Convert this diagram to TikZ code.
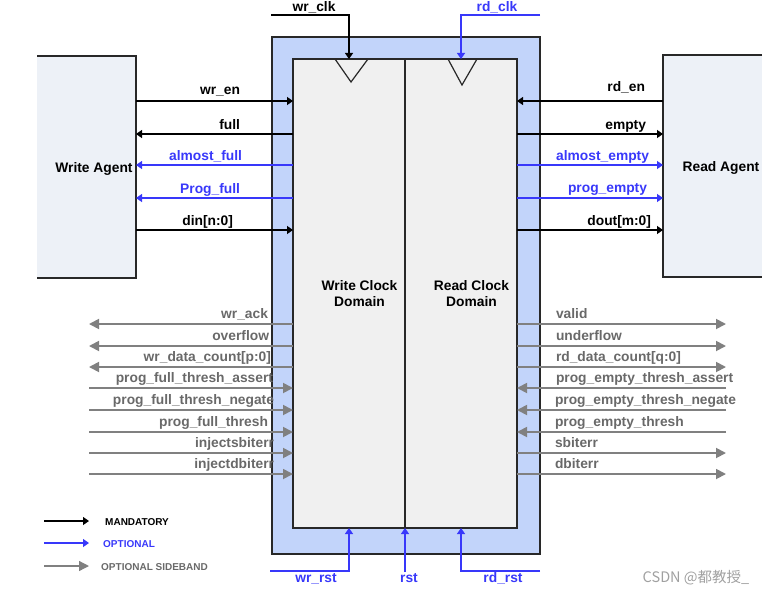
\documentclass[tikz,border=0pt]{standalone}
\usepackage{fontspec}
\setmainfont{Liberation Sans}
\newfontfamily\cjkfont{Noto Sans CJK SC}
\usetikzlibrary{arrows.meta}
\definecolor{optblue}{RGB}{56,56,250}
\definecolor{sidegray}{RGB}{128,128,128}
\definecolor{sidetext}{RGB}{105,105,105}
\definecolor{outerfill}{RGB}{194,212,250}
\definecolor{innerfill}{RGB}{240,240,240}
\definecolor{agentfill}{RGB}{237,241,247}
\definecolor{edgecol}{RGB}{40,40,40}
\definecolor{wmgray}{RGB}{160,160,160}
\begin{document}
\begin{tikzpicture}[x=1pt,y=-1pt,
  lbl/.style={font=\fontsize{13.8}{16}\selectfont\bfseries, inner sep=0pt, outer sep=0pt},
  bl/.style={lbl, text=black},
  ol/.style={lbl, text=optblue},
  sl/.style={lbl, text=sidetext},
  legtxt/.style={font=\fontsize{10}{12}\selectfont\bfseries, inner sep=0pt, anchor=west},
  mand/.style={draw=black, line width=1.3pt, -{Triangle[length=6pt,width=8pt]}},
  opt/.style={draw=optblue, line width=1.3pt, -{Triangle[length=6pt,width=8pt]}},
  side/.style={draw=sidegray, line width=1.8pt, -{Triangle[length=10pt,width=10pt]}},
  outerbox/.style={draw=edgecol, line width=1.8pt, fill=outerfill, inner sep=0pt, outer sep=0pt},
  dombox/.style={draw=edgecol, line width=1.4pt, fill=innerfill, inner sep=0pt, outer sep=0pt},
  agentbox/.style={fill=agentfill, inner sep=0pt, outer sep=0pt},
  agentedge/.style={draw=edgecol, line width=1.4pt},
  clocktri/.style={draw=edgecol, line width=1.2pt}
]
\useasboundingbox (0,0) rectangle (767,594);

% agents
\node[agentbox, minimum width=99pt, minimum height=222pt] (wagent) at (86.5,167) {};
\node[agentbox, minimum width=99pt, minimum height=222pt] (ragent) at (712.5,166) {};
\draw[agentedge] (wagent.north west) -- (wagent.north east) -- (wagent.south east) -- (wagent.south west);
\draw[agentedge] (ragent.north east) -- (ragent.north west) -- (ragent.south west) -- (ragent.south east);
\node[bl, anchor=base] (wagentlbl) at (94,172) {Write Agent};
\node[bl, anchor=base] (ragentlbl) at (721,171) {Read Agent};

% FIFO core
\node[outerbox, minimum width=268pt, minimum height=517pt] (outer) at (406,295.5) {};
\node[dombox, minimum width=112pt, minimum height=469pt] (wdom) at (349,293.5) {};
\node[dombox, minimum width=112pt, minimum height=469pt] (rdom) at (461,293.5) {};
\draw[clocktri] (335,59) -- (351,82) -- (368,59);
\draw[clocktri] (448,59) -- (462,85) -- (477,59);
\node[bl, anchor=base] (wd1) at (359.5,290) {Write Clock};
\node[bl, anchor=base] (wd2) at (359.5,306) {Domain};
\node[bl, anchor=base] (rd1) at (471.5,290) {Read Clock};
\node[bl, anchor=base] (rd2) at (471.5,306) {Domain};

% row coordinates
\coordinate (r1) at (0,101);
\coordinate (r2) at (0,134);
\coordinate (r3) at (0,165);
\coordinate (r4) at (0,198);
\coordinate (r5) at (0,230);
\coordinate (s1) at (0,324);
\coordinate (s2) at (0,346);
\coordinate (s3) at (0,367);
\coordinate (s4) at (0,388);
\coordinate (s5) at (0,410);
\coordinate (s6) at (0,432);
\coordinate (s7) at (0,453);
\coordinate (s8) at (0,474);
\coordinate (lend) at (89,0);
\coordinate (rend) at (726,0);

% clocks
\coordinate (wclk) at (271,15);
\coordinate (rclk) at (540,15);
\draw[mand] (wclk) -| (wdom.north);
\draw[opt] (rclk) -| (rdom.north);
\node[bl, anchor=base] (wclklbl) at (314,12) {wr\_clk};
\node[ol, anchor=base] (rclklbl) at (497,12) {rd\_clk};

% resets
\coordinate (wrst) at (270,571);
\coordinate (rrst) at (540,571);
\coordinate (rstsrc) at (405,572);
\draw[opt] (wrst) -| (wdom.south);
\draw[opt] (rrst) -| (rdom.south);
\draw[opt] (rstsrc) -- (wdom.south east);
\node[ol, anchor=base] (wrstlbl) at (316,582) {wr\_rst};
\node[ol, anchor=base] (rstlbl) at (409,582) {rst};
\node[ol, anchor=base] (rrstlbl) at (503,582) {rd\_rst};

% write side main signals
\draw[mand] (wagent.east|-r1) -- (wdom.west|-r1);
\draw[mand] (wdom.west|-r2) -- (wagent.east|-r2);
\draw[opt] (wdom.west|-r3) -- (wagent.east|-r3);
\draw[opt] (wdom.west|-r4) -- (wagent.east|-r4);
\draw[mand] (wagent.east|-r5) -- (wdom.west|-r5);
\node[bl, anchor=base east] (lwren) at (240,94) {wr\_en};
\node[bl, anchor=base east] (lfull) at (240,129) {full};
\node[ol, anchor=base east] (lafull) at (242,160) {almost\_full};
\node[ol, anchor=base east] (lpfull) at (240,193) {Prog\_full};
\node[bl, anchor=base east] (ldin) at (233,225) {din[n:0]};

% read side main signals
\draw[mand] (ragent.west|-r1) -- (rdom.east|-r1);
\draw[mand] (rdom.east|-r2) -- (ragent.west|-r2);
\draw[opt] (rdom.east|-r3) -- (ragent.west|-r3);
\draw[opt] (rdom.east|-r4) -- (ragent.west|-r4);
\draw[mand] (rdom.east|-r5) -- (ragent.west|-r5);
\node[bl, anchor=base east] (lrden) at (645,91) {rd\_en};
\node[bl, anchor=base east] (lempty) at (646,129) {empty};
\node[ol, anchor=base east] (laempty) at (649,160) {almost\_empty};
\node[ol, anchor=base east] (lpempty) at (647,192) {prog\_empty};
\node[bl, anchor=base east] (ldout) at (651,225) {dout[m:0]};

% write side sideband
\draw[side] (wdom.west|-s1) -- (lend|-s1);
\draw[side] (wdom.west|-s2) -- (lend|-s2);
\draw[side] (wdom.west|-s3) -- (lend|-s3);
\draw[side] (lend|-s4) -- (wdom.west|-s4);
\draw[side] (lend|-s5) -- (wdom.west|-s5);
\draw[side] (lend|-s6) -- (wdom.west|-s6);
\draw[side] (lend|-s7) -- (wdom.west|-s7);
\draw[side] (lend|-s8) -- (wdom.west|-s8);
\node[sl, anchor=base east] (lwack) at (268,318) {wr\_ack};
\node[sl, anchor=base east] (lovf) at (269,340) {overflow};
\node[sl, anchor=base east] (lwdc) at (271,361) {wr\_data\_count[p:0]};
\node[sl, anchor=base east] (lpfta) at (273,382) {prog\_full\_thresh\_assert};
\node[sl, anchor=base east] (lpftn) at (274,404) {prog\_full\_thresh\_negate};
\node[sl, anchor=base east] (lpft) at (268,426) {prog\_full\_thresh};
\node[sl, anchor=base east] (lisb) at (274,447) {injectsbiterr};
\node[sl, anchor=base east] (lidb) at (274,468) {injectdbiterr};

% read side sideband
\draw[side] (rdom.east|-s1) -- (rend|-s1);
\draw[side] (rdom.east|-s2) -- (rend|-s2);
\draw[side] (rdom.east|-s3) -- (rend|-s3);
\draw[side] (rend|-s4) -- (rdom.east|-s4);
\draw[side] (rend|-s5) -- (rdom.east|-s5);
\draw[side] (rend|-s6) -- (rdom.east|-s6);
\draw[side] (rdom.east|-s7) -- (rend|-s7);
\draw[side] (rdom.east|-s8) -- (rend|-s8);
\node[sl, anchor=base west] (lvalid) at (556,318) {valid};
\node[sl, anchor=base west] (lunf) at (556,340) {underflow};
\node[sl, anchor=base west] (lrdc) at (556,361) {rd\_data\_count[q:0]};
\node[sl, anchor=base west] (lpeta) at (556,382) {prog\_empty\_thresh\_assert};
\node[sl, anchor=base west] (lpetn) at (555,404) {prog\_empty\_thresh\_negate};
\node[sl, anchor=base west] (lpet) at (555,426) {prog\_empty\_thresh};
\node[sl, anchor=base west] (lsbe) at (555,447) {sbiterr};
\node[sl, anchor=base west] (ldbe) at (555,468) {dbiterr};

% legend
\coordinate (lg1a) at (44,521);
\coordinate (lg1b) at (89,521);
\coordinate (lg2a) at (44,543);
\coordinate (lg2b) at (89,543);
\coordinate (lg3a) at (44,566);
\coordinate (lg3b) at (89,566);
\draw[mand] (lg1a) -- (lg1b);
\draw[opt] (lg2a) -- (lg2b);
\draw[side, line width=1.3pt] (lg3a) -- (lg3b);
\node[legtxt, text=black] (lgt1) at (105,522) {MANDATORY};
\node[legtxt, text=optblue] (lgt2) at (103,544) {OPTIONAL};
\node[legtxt, text=sidetext] (lgt3) at (101,567) {OPTIONAL SIDEBAND};

% watermark
\node[font=\cjkfont\fontsize{14.5}{16}\selectfont, text=wmgray, inner sep=0pt, anchor=center] (wm) at (696,578) {CSDN @都教授\_};
\end{tikzpicture}
\end{document}
